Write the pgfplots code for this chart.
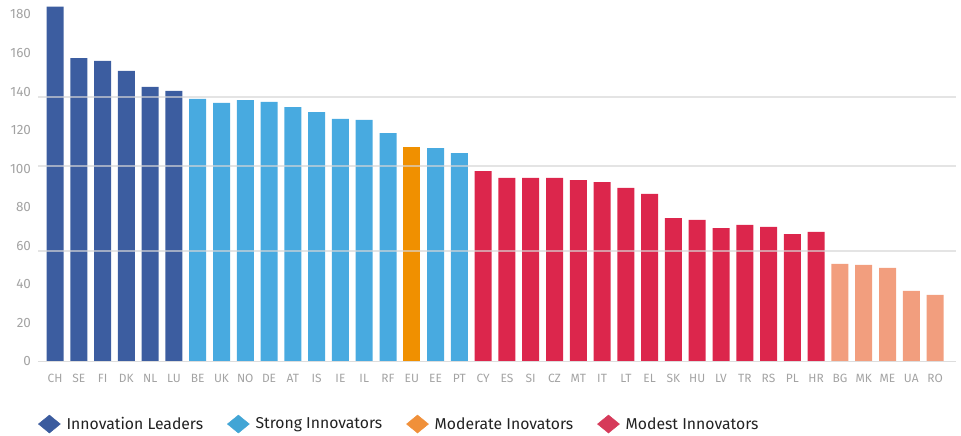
\documentclass[border=0pt]{standalone}
\usepackage{fontspec}
\setmainfont{Fira Sans}
\usepackage{pgfplots}
\pgfplotsset{compat=1.18}
\definecolor{cLead}{HTML}{3C5DA0}
\definecolor{cStrong}{HTML}{48AAE0}
\definecolor{cMod}{HTML}{F09000}
\definecolor{cModest}{HTML}{DC264C}
\definecolor{cLow}{HTML}{F29E7E}
\definecolor{lLead}{HTML}{3B5B9E}
\definecolor{lStrong}{HTML}{42A5D5}
\definecolor{lMod}{HTML}{F0903A}
\definecolor{lModest}{HTML}{D63A5A}
\definecolor{labgray}{HTML}{A3A3A3}
\definecolor{gridgray}{HTML}{D6D6D6}
\definecolor{basegray}{HTML}{DDDDDD}
\definecolor{legtext}{HTML}{222222}
\begin{document}
\begin{tikzpicture}
\begin{axis}[
  scale only axis, width=918bp, height=361.5bp,
  xmin=-0.715, xmax=37.88, ymin=0, ymax=187.5,
  axis line style={draw=none},
  tick style={draw=none},
  major tick length=0pt,
  axis on top,
  /pgf/number format/assume math mode=true,
  ytick={0,20,...,180},
  xtick={0,...,37},
  xticklabels={CH,SE,FI,DK,NL,LU,BE,UK,NO,DE,AT,IS,IE,IL,RF,EU,EE,PT,CY,ES,SI,CZ,MT,IT,LT,EL,SK,HU,LV,TR,RS,PL,HR,BG,MK,ME,UA,RO},
  extra y ticks={57.3,101.4,137.2},
  extra y tick labels={},
  extra y tick style={grid=major, major grid style={draw=gridgray, line width=1.5bp, opacity=0.65}},
  xticklabel style={font=\fontsize{12}{13}\selectfont, text=labgray, yshift=-9bp},
  yticklabel style={font=\fontsize{13.5}{14}\selectfont, text=labgray, xshift=-3.5bp},
  legend style={at={(axis description cs:0,-0.173)}, anchor=west, draw=none, fill=none, inner sep=0pt,
    font=\fontsize{15.8}{17}\selectfont, text=legtext,
    /tikz/every odd column/.append style={column sep=4bp},
    /tikz/every even column/.append style={column sep=22bp}},
  legend columns=4,
  legend cell align=left,
]
\addplot[ybar, bar width=17bp, bar shift=0pt, fill=cLead, draw=none, forget plot] coordinates {
  (0,184.0) (1,157.4) (2,155.9) (3,150.7) (4,142.4) (5,140.3)};
\addplot[ybar, bar width=17bp, bar shift=0pt, fill=cStrong, draw=none, forget plot] coordinates {
  (6,136.2) (7,134.1) (8,135.6) (9,134.6) (10,132.0) (11,129.4) (12,125.8) (13,125.3) (14,118.5) (16,110.7) (17,108.1)};
\addplot[ybar, bar width=17bp, bar shift=0pt, fill=cMod, draw=none, forget plot] coordinates {
  (15,111.3)};
\addplot[ybar, bar width=17bp, bar shift=0pt, fill=cModest, draw=none, forget plot] coordinates {
  (18,98.8) (19,95.2) (20,95.2) (21,95.2) (22,94.1) (23,93.1) (24,90.0) (25,86.9) (26,74.4) (27,73.4) (28,69.2) (29,70.8) (30,69.8) (31,66.1) (32,67.2)};
\addplot[ybar, bar width=17bp, bar shift=0pt, fill=cLow, draw=none, forget plot] coordinates {
  (33,50.6) (34,50.1) (35,48.5) (36,36.6) (37,34.5)};
\draw[basegray, line width=2bp] (rel axis cs:0,0) -- (rel axis cs:1,0);
\coordinate (O) at (rel axis cs:0,0);
\coordinate (T) at (rel axis cs:1,1);
\addlegendimage{legend image code/.code={\fill[lLead] (0bp,0bp) -- (11bp,9bp) -- (22bp,0bp) -- (11bp,-9bp) -- cycle;}}
\addlegendentry{Innovation Leaders}
\addlegendimage{legend image code/.code={\fill[lStrong] (0bp,0bp) -- (11bp,9bp) -- (22bp,0bp) -- (11bp,-9bp) -- cycle;}}
\addlegendentry{Strong Innovators}
\addlegendimage{legend image code/.code={\fill[lMod] (0bp,0bp) -- (11bp,9bp) -- (22bp,0bp) -- (11bp,-9bp) -- cycle;}}
\addlegendentry{Moderate Inovators}
\addlegendimage{legend image code/.code={\fill[lModest] (0bp,0bp) -- (11bp,9bp) -- (22bp,0bp) -- (11bp,-9bp) -- cycle;}}
\addlegendentry{Modest Innovators}
\end{axis}
\pgfresetboundingbox
\path[use as bounding box] ([shift={(-38bp,-74.5bp)}]O) rectangle ([shift={(5bp,0bp)}]T);
\end{tikzpicture}
\end{document}
